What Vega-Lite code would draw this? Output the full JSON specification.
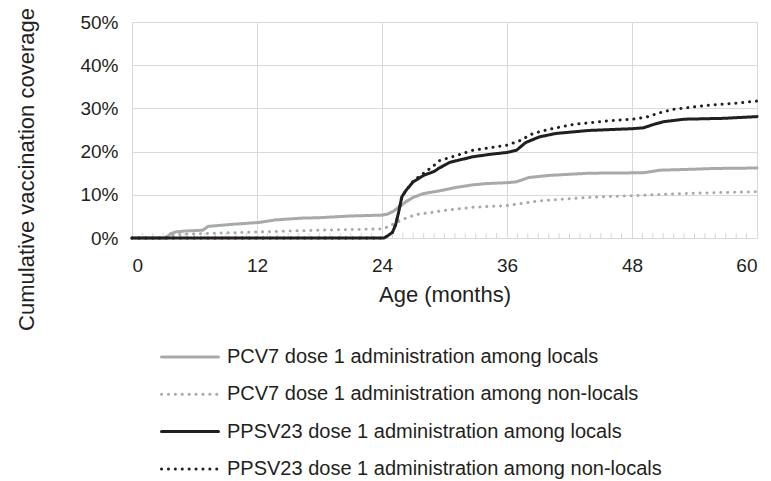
{
  "$schema": "https://vega.github.io/schema/vega-lite/v6.json",
  "width": 625,
  "height": 216,
  "autosize": {"type": "none"},
  "padding": {"left": 132, "top": 22, "right": 14, "bottom": 243},
  "background": "white",
  "config": {
    "view": {"stroke": null},
    "font": "Liberation Sans",
    "axis": {"labelFont": "Liberation Sans", "titleFont": "Liberation Sans", "labelColor": "#231f20", "titleColor": "#231f20", "titleFontWeight": "normal"},
    "legend": {"labelFont": "Liberation Sans", "labelColor": "#231f20"}
  },
  "datasets": {
    "ticks": [
      {"m": 1}, {"m": 2}, {"m": 3}, {"m": 4}, {"m": 5}, {"m": 6}, {"m": 7}, {"m": 8}, {"m": 9}, {"m": 10}, {"m": 11},
      {"m": 13}, {"m": 14}, {"m": 15}, {"m": 16}, {"m": 17}, {"m": 18}, {"m": 19}, {"m": 20}, {"m": 21}, {"m": 22}, {"m": 23},
      {"m": 25}, {"m": 26}, {"m": 27}, {"m": 28}, {"m": 29}, {"m": 30}, {"m": 31}, {"m": 32}, {"m": 33}, {"m": 34}, {"m": 35},
      {"m": 37}, {"m": 38}, {"m": 39}, {"m": 40}, {"m": 41}, {"m": 42}, {"m": 43}, {"m": 44}, {"m": 45}, {"m": 46}, {"m": 47},
      {"m": 49}, {"m": 50}, {"m": 51}, {"m": 52}, {"m": 53}, {"m": 54}, {"m": 55}, {"m": 56}, {"m": 57}, {"m": 58}, {"m": 59}
    ],
    "curves": [
      {"s": "PCV7 dose 1 administration among locals", "m": 0, "v": 0},
      {"s": "PCV7 dose 1 administration among locals", "m": 3.3, "v": 0},
      {"s": "PCV7 dose 1 administration among locals", "m": 3.7, "v": 1.0},
      {"s": "PCV7 dose 1 administration among locals", "m": 4.2, "v": 1.4},
      {"s": "PCV7 dose 1 administration among locals", "m": 5, "v": 1.6},
      {"s": "PCV7 dose 1 administration among locals", "m": 6.8, "v": 1.8},
      {"s": "PCV7 dose 1 administration among locals", "m": 7.3, "v": 2.7},
      {"s": "PCV7 dose 1 administration among locals", "m": 9.3, "v": 3.1},
      {"s": "PCV7 dose 1 administration among locals", "m": 11, "v": 3.4},
      {"s": "PCV7 dose 1 administration among locals", "m": 12.2, "v": 3.6},
      {"s": "PCV7 dose 1 administration among locals", "m": 13.8, "v": 4.2},
      {"s": "PCV7 dose 1 administration among locals", "m": 16.3, "v": 4.6},
      {"s": "PCV7 dose 1 administration among locals", "m": 18, "v": 4.7},
      {"s": "PCV7 dose 1 administration among locals", "m": 21, "v": 5.1},
      {"s": "PCV7 dose 1 administration among locals", "m": 24, "v": 5.3},
      {"s": "PCV7 dose 1 administration among locals", "m": 24.5, "v": 5.5},
      {"s": "PCV7 dose 1 administration among locals", "m": 25.1, "v": 6.2},
      {"s": "PCV7 dose 1 administration among locals", "m": 25.7, "v": 7.3},
      {"s": "PCV7 dose 1 administration among locals", "m": 26.3, "v": 8.4},
      {"s": "PCV7 dose 1 administration among locals", "m": 27, "v": 9.4},
      {"s": "PCV7 dose 1 administration among locals", "m": 28, "v": 10.3},
      {"s": "PCV7 dose 1 administration among locals", "m": 29.5, "v": 10.9},
      {"s": "PCV7 dose 1 administration among locals", "m": 31.1, "v": 11.7},
      {"s": "PCV7 dose 1 administration among locals", "m": 32.7, "v": 12.3},
      {"s": "PCV7 dose 1 administration among locals", "m": 34, "v": 12.6},
      {"s": "PCV7 dose 1 administration among locals", "m": 36, "v": 12.8},
      {"s": "PCV7 dose 1 administration among locals", "m": 36.9, "v": 13.0},
      {"s": "PCV7 dose 1 administration among locals", "m": 38.1, "v": 14.0},
      {"s": "PCV7 dose 1 administration among locals", "m": 40.1, "v": 14.5},
      {"s": "PCV7 dose 1 administration among locals", "m": 43.9, "v": 15.0},
      {"s": "PCV7 dose 1 administration among locals", "m": 49.1, "v": 15.1},
      {"s": "PCV7 dose 1 administration among locals", "m": 50.7, "v": 15.7},
      {"s": "PCV7 dose 1 administration among locals", "m": 53.6, "v": 15.9},
      {"s": "PCV7 dose 1 administration among locals", "m": 56, "v": 16.1},
      {"s": "PCV7 dose 1 administration among locals", "m": 60, "v": 16.2},

      {"s": "PCV7 dose 1 administration among non-locals", "m": 0, "v": 0},
      {"s": "PCV7 dose 1 administration among non-locals", "m": 3, "v": 0},
      {"s": "PCV7 dose 1 administration among non-locals", "m": 3.6, "v": 0.6},
      {"s": "PCV7 dose 1 administration among non-locals", "m": 5.2, "v": 0.9},
      {"s": "PCV7 dose 1 administration among non-locals", "m": 8, "v": 1.1},
      {"s": "PCV7 dose 1 administration among non-locals", "m": 12.2, "v": 1.4},
      {"s": "PCV7 dose 1 administration among non-locals", "m": 17.9, "v": 1.8},
      {"s": "PCV7 dose 1 administration among non-locals", "m": 24, "v": 2.1},
      {"s": "PCV7 dose 1 administration among non-locals", "m": 24.6, "v": 2.6},
      {"s": "PCV7 dose 1 administration among non-locals", "m": 25.3, "v": 3.5},
      {"s": "PCV7 dose 1 administration among non-locals", "m": 26, "v": 4.3},
      {"s": "PCV7 dose 1 administration among non-locals", "m": 26.6, "v": 4.9},
      {"s": "PCV7 dose 1 administration among non-locals", "m": 27.5, "v": 5.5},
      {"s": "PCV7 dose 1 administration among non-locals", "m": 29, "v": 6.0},
      {"s": "PCV7 dose 1 administration among non-locals", "m": 30, "v": 6.4},
      {"s": "PCV7 dose 1 administration among non-locals", "m": 32.7, "v": 7.1},
      {"s": "PCV7 dose 1 administration among non-locals", "m": 36, "v": 7.5},
      {"s": "PCV7 dose 1 administration among non-locals", "m": 39.1, "v": 8.6},
      {"s": "PCV7 dose 1 administration among non-locals", "m": 43.9, "v": 9.4},
      {"s": "PCV7 dose 1 administration among non-locals", "m": 48, "v": 9.8},
      {"s": "PCV7 dose 1 administration among non-locals", "m": 52, "v": 10.2},
      {"s": "PCV7 dose 1 administration among non-locals", "m": 56, "v": 10.5},
      {"s": "PCV7 dose 1 administration among non-locals", "m": 60, "v": 10.7},

      {"s": "PPSV23 dose 1 administration among locals", "m": 0, "v": 0},
      {"s": "PPSV23 dose 1 administration among locals", "m": 24.2, "v": 0},
      {"s": "PPSV23 dose 1 administration among locals", "m": 24.6, "v": 0.6},
      {"s": "PPSV23 dose 1 administration among locals", "m": 25, "v": 1.3},
      {"s": "PPSV23 dose 1 administration among locals", "m": 25.3, "v": 3.0},
      {"s": "PPSV23 dose 1 administration among locals", "m": 25.6, "v": 6.0},
      {"s": "PPSV23 dose 1 administration among locals", "m": 25.9, "v": 9.5},
      {"s": "PPSV23 dose 1 administration among locals", "m": 26.3, "v": 11.0},
      {"s": "PPSV23 dose 1 administration among locals", "m": 27, "v": 13.0},
      {"s": "PPSV23 dose 1 administration among locals", "m": 28, "v": 14.5},
      {"s": "PPSV23 dose 1 administration among locals", "m": 29, "v": 15.4},
      {"s": "PPSV23 dose 1 administration among locals", "m": 29.5, "v": 16.2},
      {"s": "PPSV23 dose 1 administration among locals", "m": 30.5, "v": 17.5},
      {"s": "PPSV23 dose 1 administration among locals", "m": 32.7, "v": 18.8},
      {"s": "PPSV23 dose 1 administration among locals", "m": 34.5, "v": 19.4},
      {"s": "PPSV23 dose 1 administration among locals", "m": 36, "v": 19.8},
      {"s": "PPSV23 dose 1 administration among locals", "m": 36.9, "v": 20.3},
      {"s": "PPSV23 dose 1 administration among locals", "m": 37.8, "v": 22.1},
      {"s": "PPSV23 dose 1 administration among locals", "m": 39.1, "v": 23.4},
      {"s": "PPSV23 dose 1 administration among locals", "m": 40.7, "v": 24.2},
      {"s": "PPSV23 dose 1 administration among locals", "m": 43.9, "v": 24.9},
      {"s": "PPSV23 dose 1 administration among locals", "m": 48, "v": 25.3},
      {"s": "PPSV23 dose 1 administration among locals", "m": 49.1, "v": 25.5},
      {"s": "PPSV23 dose 1 administration among locals", "m": 50.1, "v": 26.3},
      {"s": "PPSV23 dose 1 administration among locals", "m": 51, "v": 26.9},
      {"s": "PPSV23 dose 1 administration among locals", "m": 53, "v": 27.5},
      {"s": "PPSV23 dose 1 administration among locals", "m": 56.8, "v": 27.7},
      {"s": "PPSV23 dose 1 administration among locals", "m": 60, "v": 28.1},

      {"s": "PPSV23 dose 1 administration among non-locals", "m": 0, "v": 0},
      {"s": "PPSV23 dose 1 administration among non-locals", "m": 24.2, "v": 0},
      {"s": "PPSV23 dose 1 administration among non-locals", "m": 24.6, "v": 0.6},
      {"s": "PPSV23 dose 1 administration among non-locals", "m": 25, "v": 1.3},
      {"s": "PPSV23 dose 1 administration among non-locals", "m": 25.3, "v": 3.0},
      {"s": "PPSV23 dose 1 administration among non-locals", "m": 25.6, "v": 6.0},
      {"s": "PPSV23 dose 1 administration among non-locals", "m": 25.9, "v": 9.5},
      {"s": "PPSV23 dose 1 administration among non-locals", "m": 26.3, "v": 11.0},
      {"s": "PPSV23 dose 1 administration among non-locals", "m": 27, "v": 13.2},
      {"s": "PPSV23 dose 1 administration among non-locals", "m": 28, "v": 15.0},
      {"s": "PPSV23 dose 1 administration among non-locals", "m": 29, "v": 16.8},
      {"s": "PPSV23 dose 1 administration among non-locals", "m": 29.5, "v": 17.9},
      {"s": "PPSV23 dose 1 administration among non-locals", "m": 30.5, "v": 18.6},
      {"s": "PPSV23 dose 1 administration among non-locals", "m": 32.7, "v": 20.3},
      {"s": "PPSV23 dose 1 administration among non-locals", "m": 36, "v": 21.5},
      {"s": "PPSV23 dose 1 administration among non-locals", "m": 37.2, "v": 22.5},
      {"s": "PPSV23 dose 1 administration among non-locals", "m": 38.5, "v": 24.2},
      {"s": "PPSV23 dose 1 administration among non-locals", "m": 40.1, "v": 25.2},
      {"s": "PPSV23 dose 1 administration among non-locals", "m": 42.4, "v": 26.3},
      {"s": "PPSV23 dose 1 administration among non-locals", "m": 45.6, "v": 27.1},
      {"s": "PPSV23 dose 1 administration among non-locals", "m": 48, "v": 27.5},
      {"s": "PPSV23 dose 1 administration among non-locals", "m": 49.4, "v": 28.0},
      {"s": "PPSV23 dose 1 administration among non-locals", "m": 50.7, "v": 29.0},
      {"s": "PPSV23 dose 1 administration among non-locals", "m": 52, "v": 29.8},
      {"s": "PPSV23 dose 1 administration among non-locals", "m": 55.2, "v": 30.7},
      {"s": "PPSV23 dose 1 administration among non-locals", "m": 58.4, "v": 31.3},
      {"s": "PPSV23 dose 1 administration among non-locals", "m": 60, "v": 31.7}
    ]
  },
  "layer": [
    {
      "data": {"name": "ticks"},
      "mark": {"type": "tick", "orient": "vertical", "size": 5, "thickness": 1, "color": "#c4c4c4", "yOffset": -2.5},
      "encoding": {
        "x": {"field": "m", "type": "quantitative", "scale": {"domain": [0, 60], "nice": false},
              "axis": {"values": [0, 12, 24, 36, 48, 60], "title": "Age (months)", "titleFontSize": 22, "titlePadding": 9, "labelFontSize": 19, "labelPadding": 18, "ticks": false, "domain": false, "grid": true, "gridColor": "#d9d9d9", "gridWidth": 1}},
        "y": {"datum": 0, "type": "quantitative", "scale": {"domain": [0, 50], "nice": false},
              "axis": {"values": [0, 10, 20, 30, 40, 50], "labelExpr": "datum.value + '%'", "labelFontSize": 19, "labelPadding": 14, "ticks": false, "domain": false, "grid": true, "gridColor": "#d9d9d9", "gridWidth": 1,
                       "title": "Cumulative vaccination coverage", "titleFontSize": 22, "titleAngle": -90, "titleX": -99, "titleY": 147, "titleAlign": "center", "titleBaseline": "alphabetic"}}
      }
    },
    {
      "data": {"name": "curves"},
      "mark": {"type": "line", "strokeWidth": 3, "strokeCap": "round", "strokeJoin": "round"},
      "encoding": {
        "x": {"field": "m", "type": "quantitative"},
        "y": {"field": "v", "type": "quantitative"},
        "detail": {"field": "s"},
        "color": {"field": "s", "type": "nominal",
          "scale": {"domain": ["PCV7 dose 1 administration among locals", "PCV7 dose 1 administration among non-locals", "PPSV23 dose 1 administration among locals", "PPSV23 dose 1 administration among non-locals"],
                    "range": ["#a7a9ac", "#a7a9ac", "#231f20", "#231f20"]},
          "legend": {"orient": "none", "legendX": 28, "legendY": 325, "title": null, "direction": "vertical", "symbolType": "stroke", "symbolSize": 3249, "symbolStrokeWidth": 3, "labelFontSize": 20, "labelOffset": 7, "labelLimit": 600, "clipHeight": 20, "rowPadding": 17.3, "padding": 0,
                     "encode": {"symbols": {"update": {"strokeCap": {"value": "round"}}}}}},
        "strokeDash": {"field": "s", "type": "nominal",
          "scale": {"domain": ["PCV7 dose 1 administration among locals", "PCV7 dose 1 administration among non-locals", "PPSV23 dose 1 administration among locals", "PPSV23 dose 1 administration among non-locals"],
                    "range": [[1, 0], [0.1, 6.8], [1, 0], [0.1, 6.8]]},
          "legend": {"orient": "none", "legendX": 28, "legendY": 325, "title": null, "direction": "vertical", "symbolType": "stroke", "symbolSize": 3249, "symbolStrokeWidth": 3, "labelFontSize": 20, "labelOffset": 7, "labelLimit": 600, "clipHeight": 20, "rowPadding": 17.3, "padding": 0}}
      }
    }
  ]
}
